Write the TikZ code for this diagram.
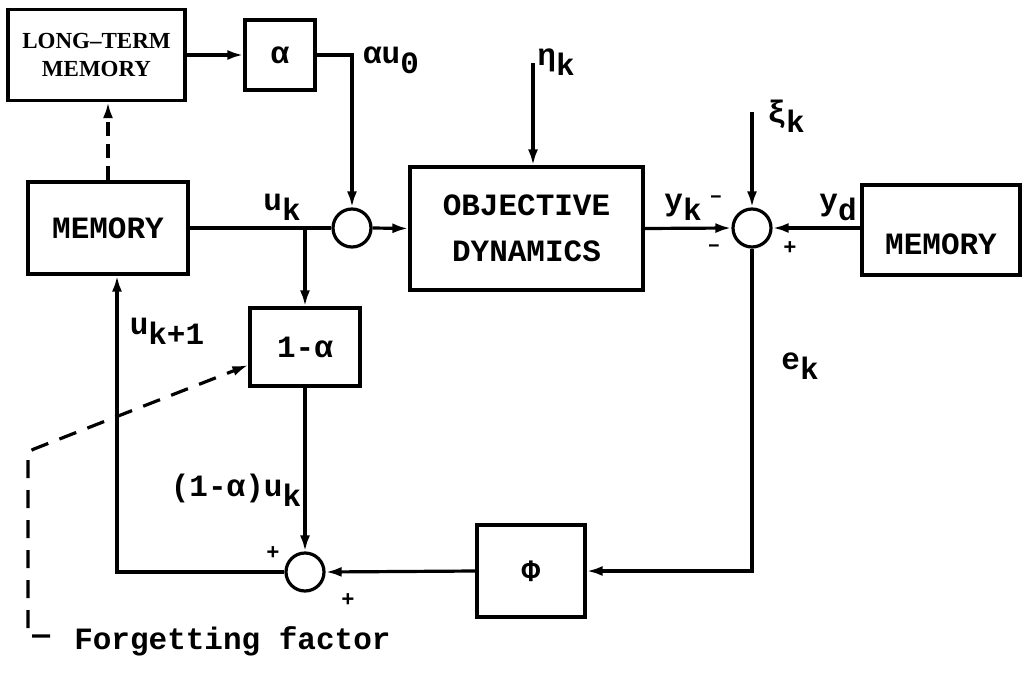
\documentclass[tikz,border=0pt]{standalone}
\usepackage{fontspec}
\setmainfont{Liberation Mono}
\newfontfamily\ltmfont{Liberation Serif}
\usetikzlibrary{arrows.meta,calc}
\newcommand{\lowidx}[1]{\raisebox{-5pt}{#1}}

\begin{document}
\begin{tikzpicture}[x=0.5pt, y=-0.5pt, line width=1.6pt,
    font=\fontsize{15.5}{19}\selectfont\bfseries,
    blk/.style={draw, rectangle, inner sep=0pt},
    sumnode/.style={draw, circle, minimum size=19pt, inner sep=0pt},
    sig/.style={-{Latex[length=8pt,width=5pt]}},
    pm/.style={font=\fontsize{11}{13}\selectfont\bfseries}]
  \useasboundingbox (0,0) rectangle (1031,679);

  % Blocks
  \node[blk, minimum width=88.5pt, minimum height=45.5pt, align=center,
        font=\ltmfont\fontsize{11.5}{14}\selectfont\bfseries] (ltm) at (96.5,55) {LONG–TERM\\MEMORY};
  \node[blk, minimum width=35pt, minimum height=35pt] (alpha) at (280,55) {α};
  \node[blk, minimum width=80pt, minimum height=46pt] (mem) at (108,228) {MEMORY};
  \node[blk, minimum width=55pt, minimum height=39pt] (oma) at (305,347) {1-α};
  \node[blk, minimum width=116.5pt, minimum height=61.5pt, align=center] (obj) at (526.5,228.5)
    {OBJECTIVE\\[4pt]DYNAMICS};
  \node[blk, minimum width=79pt, minimum height=45pt, text height=24pt, text depth=0pt] (mem2) at (941,230) {MEMORY};
  \node[blk, minimum width=54pt, minimum height=46pt] (phi) at (531,571) {Φ};

  % Summing points
  \node[sumnode] (sum1) at (352,228) {};
  \node[sumnode] (sum2) at (305,572) {};
  \node[sumnode] (sum3) at (752,228) {};

  % Helper points
  \coordinate (j1) at (305,228);
  \coordinate (fb) at (117,572);
  \coordinate (etatop) at (533,63);
  \coordinate (xitop) at (752,112);
  \coordinate (ffa) at (50,636);
  \coordinate (ffb) at (28,636);
  \coordinate (ffc) at (28,452);
  \coordinate (ffd) at (34,449);

  % Forward path
  \draw[sig] (ltm.east) -- (alpha.west);
  \draw[sig] (alpha.east) -| (sum1.north);
  \draw (mem.east) -- (sum1.west);
  \draw[sig] (sum1.east) -- (obj.west);
  \draw[sig] (etatop) -- (etatop |- obj.north);
  \draw[sig] (obj.east) -- (sum3.west);
  \draw[sig] (xitop) -- (sum3.north);
  \draw[sig] (mem2.west |- sum3) -- (sum3.east);
  \draw[sig, dash pattern=on 7pt off 4pt] (mem.north) -- (mem.north |- ltm.south);

  % Learning loop
  \draw[sig] (j1) -- (oma.north);
  \draw[sig] (oma.south) -- (sum2.north);
  \draw[sig] (sum3.south) |- (phi.east);
  \draw[sig] (phi.west) -- (sum2.east);
  \draw[sig] (sum2.west) -- (fb) -- (fb |- mem.south);
  \draw[sig, dash pattern=on 9pt off 6pt] (ffa) -- (ffb) -- (ffc) -- (ffd) -- ([yshift=-9pt]oma.west);

  % Signal labels
  \node (lau) at (391,60) {αu\lowidx{0}};
  \node (luk) at (282,207) {u\lowidx{k}};
  \node (luk1) at (167,331) {u\lowidx{k+1}};
  \node (lmuk) at (236,490) {(1-α)u\lowidx{k}};
  \node (leta) at (556,62) {η\lowidx{k}};
  \node (lxi) at (786,116) {ξ\lowidx{k}};
  \node (lyk) at (683,207) {y\lowidx{k}};
  \node (lyd) at (838,207) {y\lowidx{d}};
  \node (lek) at (800,366) {e\lowidx{k}};
  \node[anchor=west] (lff) at (66,641) {Forgetting factor};

  % Signs
  \node[pm] (sgn1) at (716,199) {–};
  \node[pm] (sgn2) at (714,248) {–};
  \node[pm] (sgn3) at (790,248) {+};
  \node[pm] (sgn4) at (273,553) {+};
  \node[pm] (sgn5) at (348,600) {+};
\end{tikzpicture}
\end{document}
